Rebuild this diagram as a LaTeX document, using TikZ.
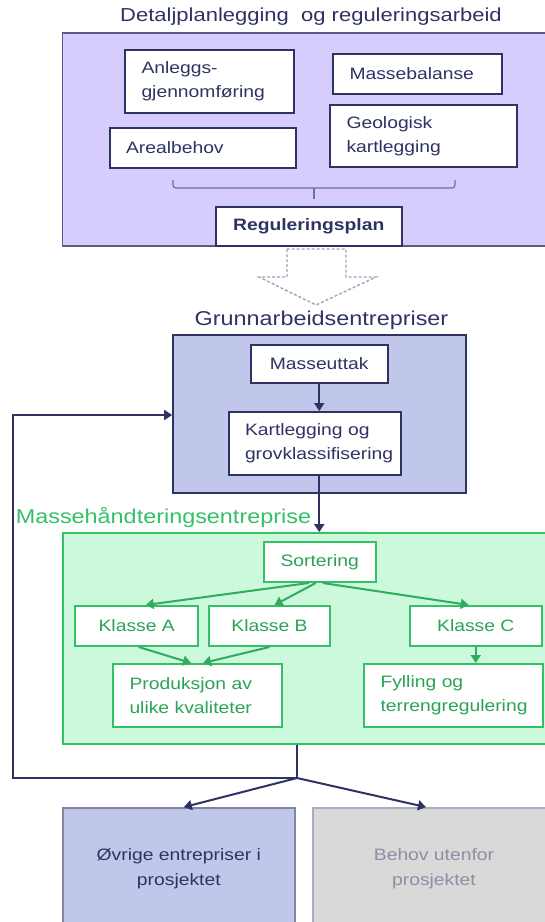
\documentclass[tikz,border=0pt]{standalone}
\usepackage{fontspec}
\setmainfont{Liberation Sans}[FakeStretch=1.17]
\usetikzlibrary{arrows.meta}
\definecolor{navy}{HTML}{2E3363}
\definecolor{lilla}{HTML}{D7CDFC}
\definecolor{blaa}{HTML}{C1C7EB}
\definecolor{gronn}{HTML}{33C066}
\definecolor{mint}{HTML}{CCF9DB}
\definecolor{graa}{HTML}{D9D9D9}
\definecolor{graatekst}{HTML}{8D8FA3}
\begin{document}
\begin{tikzpicture}[x=1pt,y=-1pt,
    boks/.style={draw=navy,line width=2pt,fill=white,text=navy,inner sep=0pt,
        font=\fontsize{16.5}{24}\selectfont},
    venstre/.style={inner xsep=16.5pt,align=left,text width=#1},
    gboks/.style={boks,draw=gronn,text=gronn!85!black},
    ramme/.style={draw=navy,line width=1.8pt,inner sep=0pt},
    tittel/.style={text=navy,font=\fontsize{20}{24}\selectfont},
    pil/.style={draw=navy,line width=2pt,-{Triangle[width=10pt,length=8pt]}},
    gpil/.style={pil,draw=gronn!90!black}]
  \useasboundingbox (0,0) rectangle (545,922);
  % \draw[help lines] (0,0) grid[step=50] (545,922);
  \node[tittel,font=\fontsize{18.8}{24}\selectfont] (detalj) at (311,17) {Detaljplanlegging\ \ og reguleringsarbeid};
  \node[ramme,draw=navy!80,fill=lilla,minimum width=497,minimum height=213] (plan) at (311,139.5) {};
  \node[boks,venstre=136pt,minimum height=63] (anlegg) at (209.5,81.5) {Anleggs-\\gjennomføring};
  \node[boks,venstre=136pt,minimum height=40] (massebal) at (417.5,74) {Massebalanse};
  \node[boks,venstre=153.5pt,minimum height=40] (areal) at (202.75,148) {Arealbehov};
  \node[boks,venstre=154pt,minimum height=62] (geolog) at (423.5,136) {Geologisk\\kartlegging};
  \draw[navy!70,line width=1.2pt,rounded corners=3] (173,180) -- (173,188) -- (455,188) -- (455,180);
  \draw[navy!70,line width=1.2pt] (314,188) -- (314,199);
  \node[boks,font=\fontsize{16.5}{24}\selectfont\bfseries,minimum width=186,minimum height=39] (regplan) at (308.7,226.5) {Reguleringsplan};
  \draw[navy!45,line width=1.4pt,dash pattern=on 3pt off 2pt]
      (287,249) -- (287,277) -- (259,277) -- (316,305) -- (376,277) -- (346,277) -- (346,249) -- cycle;
  \node[tittel] (grunntittel) at (321.5,320) {Grunnarbeidsentrepriser};
  \node[ramme,fill=blaa,minimum width=293,minimum height=158] (grunn) at (319.5,414) {};
  \node[boks,minimum width=136.5,minimum height=38] (masseuttak) at (319.25,364) {Masseuttak};
  \node[boks,venstre=139.5pt,minimum height=63] (kart) at (314.75,443.5) {Kartlegging og\\grovklassifisering};
  \draw[pil] (masseuttak.south) -- (masseuttak.south |- kart.north);
  \node[tittel,text=gronn,anchor=west,inner sep=0pt] (massetittel) at (15.6,518) {Massehåndteringsentreprise};
  \node[ramme,draw=gronn,fill=mint,minimum width=483.4,minimum height=211] (masse) at (304.3,638.5) {};
  \draw[pil] (masseuttak.south |- kart.south) -- (masseuttak.south |- masse.north);
  \node[gboks,minimum width=112.5,minimum height=40] (sortering) at (319.75,562) {Sortering};
  \node[gboks,minimum width=122.6,minimum height=40] (klasseA) at (136.7,626) {Klasse A};
  \node[gboks,minimum width=121,minimum height=40] (klasseB) at (269.5,626) {Klasse B};
  \node[gboks,minimum width=131.5,minimum height=40] (klasseC) at (475.75,626) {Klasse C};
  \node[gboks,venstre=136pt,minimum height=63] (prod) at (197.5,695.5) {Produksjon av\\ulike kvaliteter};
  \node[gboks,venstre=146pt,minimum height=63] (fyll) at (453.5,695.5) {Fylling og\\terrengregulering};
  \draw[gpil] ([xshift=-11]sortering.south) -- ([xshift=9]klasseA.north);
  \draw[gpil] ([xshift=-4]sortering.south) -- ([xshift=5]klasseB.north);
  \draw[gpil] ([xshift=3]sortering.south) -- ([xshift=-7]klasseC.north);
  \draw[gpil] ([xshift=2]klasseA.south) -- ([xshift=-6.5]prod.north);
  \draw[gpil] (klasseB.south) -- ([xshift=5.5]prod.north);
  \draw[gpil] (klasseC.south) -- (klasseC.south |- fyll.north);
  \node[ramme,fill=blaa,draw=navy!60,minimum width=232.4,minimum height=122,
      text=navy,align=center,font=\fontsize{16.5}{25}\selectfont] (ovrige) at (178.8,869) {Øvrige entrepriser i\\prosjektet};
  \node[ramme,fill=graa,draw=navy!40,minimum width=242,minimum height=122,
      text=graatekst,align=center,font=\fontsize{16.5}{25}\selectfont] (behov) at (434,869) {Behov utenfor\\prosjektet};
  \coordinate (split) at (297,778);
  \draw[navy,line width=2pt] (split |- masse.south) -- (split);
  \draw[pil] (split) -| (13,415) -- (grunn.west |- 0,415);
  \draw[pil] (split) -- ([xshift=5]ovrige.north);
  \draw[pil] (split) -- ([xshift=-8]behov.north);
\end{tikzpicture}
\end{document}
